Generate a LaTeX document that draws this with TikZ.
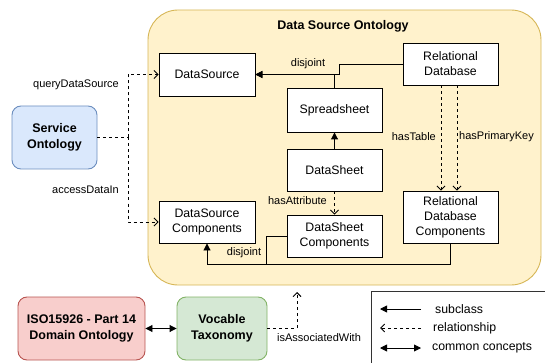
\documentclass[tikz,border=0pt]{standalone}
\usepackage{fontspec}
\setmainfont{Liberation Sans}
\usetikzlibrary{arrows.meta,calc}
\definecolor{contfill}{HTML}{FFF2CC}
\definecolor{contline}{HTML}{D6B656}
\definecolor{bluefill}{HTML}{DAE8FC}
\definecolor{blueline}{HTML}{6C8EBF}
\definecolor{redfill}{HTML}{F8CECC}
\definecolor{redline}{HTML}{B85450}
\definecolor{greenfill}{HTML}{D5E8D4}
\definecolor{greenline}{HTML}{82B366}
\tikzset{
  cls/.style={draw=black, fill=white, line width=0.9pt, align=center, inner sep=1pt,
    font=\fontsize{12.3}{15}\selectfont},
  onto/.style={draw, rounded corners=9pt, line width=0.9pt, align=center, inner sep=1pt,
    font=\fontsize{12.5}{16}\selectfont\bfseries},
  sub/.style={line width=0.9pt, -{Triangle[length=7pt,width=7pt]}},
  rel/.style={line width=0.9pt, dash pattern=on 3pt off 3pt, -{Straight Barb[length=4pt,width=8pt,line width=0.9pt]}},
  relnt/.style={line width=0.9pt, dash pattern=on 3pt off 3pt},
  common/.style={line width=0.9pt, {Triangle[length=7pt,width=7pt]}-{Triangle[length=7pt,width=7pt]}},
  lbl/.style={font=\fontsize{11}{13}\selectfont, inner sep=1pt},
  leg/.style={font=\fontsize{12.3}{15}\selectfont, inner sep=0pt, anchor=west}
}
\begin{document}
\begin{tikzpicture}[x=1pt,y=-1pt]
\useasboundingbox (0,0) rectangle (545,363);
% container
\node[draw=contline, fill=contfill, line width=0.9pt, rounded corners=30pt,
  minimum width=393pt, minimum height=275pt, inner sep=0pt] (cont) at (344.5,147.5) {};
\node[font=\fontsize{12.5}{15}\selectfont\bfseries, inner sep=0pt] (title) at (343,26) {Data Source Ontology};
% classes
\node[cls, minimum width=96pt, minimum height=43pt] (ds) at (207,74.5) {DataSource};
\node[cls, minimum width=95pt, minimum height=42pt] (rd) at (450.5,64) {Relational\\Database};
\node[cls, minimum width=95pt, minimum height=44pt] (ss) at (334.5,110) {Spreadsheet};
\node[cls, minimum width=95pt, minimum height=42pt] (dsh) at (334.5,170) {DataSheet};
\node[cls, minimum width=95pt, minimum height=42pt] (dshc) at (334.5,236) {DataSheet\\Components};
\node[cls, minimum width=95pt, minimum height=52pt] (rdc) at (450.5,217) {Relational\\Database\\Components};
\node[cls, minimum width=96pt, minimum height=42pt] (dsc) at (207,222) {DataSource\\Components};
% ontologies
\node[onto, draw=blueline, fill=bluefill, minimum width=85pt, minimum height=63pt] (so) at (54.5,137.5) {Service\\Ontology};
\node[onto, draw=redline, fill=redfill, minimum width=127pt, minimum height=63pt] (iso) at (81.5,328.5) {ISO15926 - Part 14\\Domain Ontology};
\node[onto, draw=greenline, fill=greenfill, minimum width=90pt, minimum height=63pt] (voc) at (222,328.5) {Vocable\\Taxonomy};
% junction coordinates
\coordinate (sojn) at (128,137.5);
\coordinate (rdbend) at (339,64);
\coordinate (rdbend2) at (339,74.5);
\coordinate (dshcbend) at (266,236);
\coordinate (dshcbend2) at (266,264);
\coordinate (rdcbend) at (450.5,264);
\coordinate (vocbend) at (297,328.5);
\coordinate (conttip) at (297,292);
% service ontology relations
\draw[relnt] (so.east) -- (sojn);
\draw[rel] (sojn) |- (ds.west);
\draw[rel] (sojn) |- (dsc.west);
\node[lbl, anchor=east] (lq) at (120,85) {queryDataSource};
\node[lbl, anchor=east] (la) at (120,190) {accessDataIn};
% subclass of DataSource
\draw[sub] (ss.north) |- (ds.east);
\draw[sub] (rd.west) -- (rdbend) -- (rdbend2) -- (ds.east);
\node[lbl] (ldis1) at (308,64) {disjoint};
% DataSheet subclass of Spreadsheet
\draw[sub] (dsh.north) -- (ss.south);
% hasAttribute
\draw[rel] (dsh.south) -- (dshc.north);
\node[lbl, anchor=east] (lha) at (328,201) {hasAttribute};
% RD -> RDC
\draw[rel] ([xshift=-9.5pt]rd.south) -- ([xshift=-9.5pt]rdc.north);
\draw[rel] ([xshift=6.5pt]rd.south) -- ([xshift=6.5pt]rdc.north);
\node[lbl, anchor=east] (lht) at (437,137) {hasTable};
\node[lbl, anchor=west] (lhp) at (458,137) {hasPrimaryKey};
% components subclasses
\draw[line width=0.9pt] (dshc.west) -- (dshcbend) -- (dshcbend2);
\draw[sub] (rdc.south) -- (rdcbend) -| (dsc.south);
\node[lbl] (ldis2) at (244,253) {disjoint};
% bottom
\draw[common] (iso.east) -- (voc.west);
\draw[rel] (voc.east) -- (vocbend) -- (conttip);
\node[lbl] (lias) at (319,338) {isAssociatedWith};
% legend
\node[draw=black!80, line width=1pt, minimum width=180pt, minimum height=76pt, inner sep=0pt, anchor=north west] (legend) at (371,291) {};
\coordinate (l1a) at (380,309); \coordinate (l1b) at (421,309);
\coordinate (l2a) at (380,328); \coordinate (l2b) at (421,328);
\coordinate (l3a) at (380,348); \coordinate (l3b) at (421,348);
\draw[sub] (l1b) -- (l1a);
\draw[rel] (l2b) -- (l2a);
\draw[common] (l3a) -- (l3b);
\node[leg] (t1) at (435,309) {subclass};
\node[leg] (t2) at (433,328) {relationship};
\node[leg] (t3) at (432,348) {common concepts};
\end{tikzpicture}
\end{document}
